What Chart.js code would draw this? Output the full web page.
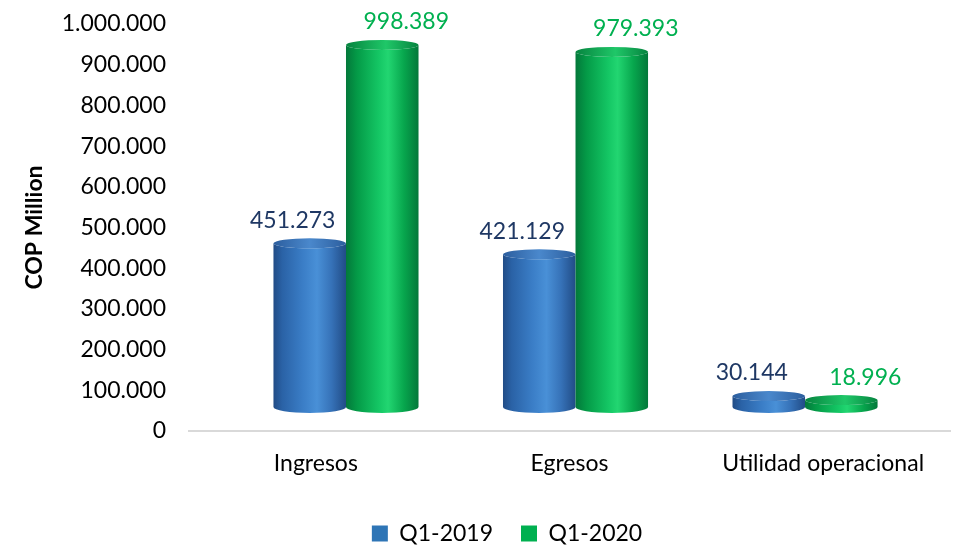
<!DOCTYPE html>
<html>
<head>
<meta charset="utf-8">
<script src="https://cdn.jsdelivr.net/npm/chart.js@4"></script>
<style>
html,body{margin:0;padding:0;background:#fff;}
#wrap{width:953px;height:546px;}
</style>
</head>
<body>
<div id="wrap"><canvas id="c" width="953" height="546"></canvas></div>
<script>
// ---- data ----
const categories = ['Ingresos', 'Egresos', 'Utilidad operacional'];
const seriesNames = ['Q1-2019', 'Q1-2020'];
const q12019 = [451273, 421129, 30144];
const q12020 = [998389, 979393, 18996];
const yMin = 0, yMax = 1000000, yStep = 100000;
const axisTitle = 'COP Million';

// ---- styles ----
const FONT = 'Lato, "Open Sans", sans-serif';
const fmt = v => String(Math.round(v)).replace(/\B(?=(\d{3})+(?!\d))/g, '.');
const toPoints = arr => arr.map((v, i) => ({x: i, y: v}));

const palettes = [
  {
    legend: '#2E75B6', label: '#1F3864', labelDx: -17,
    body: [[0,'#214C86'],[0.12,'#2A62A6'],[0.4,'#3A7DC6'],[0.6,'#4990D7'],[0.8,'#3672B8'],[1,'#214C86']],
    top:  [[0,'#2C5E9E'],[0.5,'#4A88CC'],[1,'#2C5E9E']]
  },
  {
    legend: '#00B050', label: '#00B050', labelDx: 24,
    body: [[0,'#03783A'],[0.15,'#049A47'],[0.45,'#14C664'],[0.58,'#22D671'],[0.8,'#07A64D'],[1,'#03783A']],
    top:  [[0,'#06843F'],[0.55,'#1FC768'],[1,'#06843F']]
  }
];

function drawCylinder(ctx, cx, w, yTop, yBase, pal) {
  const rx = w / 2, l = cx - rx, r = cx + rx;
  const ryB = 6, ryT = 5;
  const g = ctx.createLinearGradient(l, 0, r, 0);
  pal.body.forEach(([o, c]) => g.addColorStop(o, c));
  ctx.save();
  ctx.beginPath();
  ctx.moveTo(l, yTop);
  ctx.lineTo(l, yBase);
  ctx.ellipse(cx, yBase, rx, ryB, 0, Math.PI, 0, true);
  ctx.lineTo(r, yTop);
  ctx.ellipse(cx, yTop, rx, ryT, 0, 0, Math.PI, false);
  ctx.closePath();
  ctx.fillStyle = g;
  ctx.fill();
  const gt = ctx.createLinearGradient(l, 0, r, 0);
  pal.top.forEach(([o, c]) => gt.addColorStop(o, c));
  ctx.beginPath();
  ctx.ellipse(cx, yTop, rx, ryT, 0, 0, Math.PI * 2);
  ctx.fillStyle = gt;
  ctx.fill();
  ctx.restore();
}

const cylinderPlugin = {
  id: 'cylinders',
  beforeDatasetDraw() { return false; },
  afterDatasetsDraw(chart) {
    const ctx = chart.ctx;
    const n = chart.data.labels.length;
    for (let i = 0; i < n; i++) {
      chart.data.datasets.forEach((ds, di) => {
        const el = chart.getDatasetMeta(di).data[i];
        if (!el) return;
        drawCylinder(ctx, el.x, el.width, el.y, el.base, palettes[di]);
      });
    }
    ctx.save();
    ctx.font = '23px ' + FONT;
    ctx.textAlign = 'center';
    ctx.textBaseline = 'middle';
    chart.data.datasets.forEach((ds, di) => {
      chart.getDatasetMeta(di).data.forEach((el, i) => {
        const pal = palettes[di];
        ctx.fillStyle = pal.label;
        const y = Math.max(el.y - 23, 21);
        ctx.fillText(fmt(ds.data[i].y), el.x + pal.labelDx, y);
      });
    });
    ctx.restore();
  }
};

const legendShift = {
  id: 'legendShift',
  afterLayout(chart) {
    const lg = chart.legend;
    if (!lg) return;
    lg.left += 32; lg.right += 32;
    lg.top += 9; lg.bottom += 9;
  }
};

new Chart(document.getElementById('c'), {
  type: 'bar',
  data: {
    labels: categories,
    datasets: [
      { label: seriesNames[0], data: toPoints(q12019), backgroundColor: palettes[0].legend,
        xAxisID: 'x2', yAxisID: 'y2', categoryPercentage: 0.632, barPercentage: 1 },
      { label: seriesNames[1], data: toPoints(q12020), backgroundColor: palettes[1].legend,
        xAxisID: 'x2', yAxisID: 'y2', categoryPercentage: 0.632, barPercentage: 1 }
    ]
  },
  options: {
    responsive: false,
    animation: false,
    devicePixelRatio: 1,
    layout: { padding: { top: 24, left: 0, right: 3, bottom: 0 } },
    scales: {
      x: {
        type: 'category', position: 'bottom', offset: true,
        grid: { display: false, drawTicks: false },
        border: { display: true, color: '#D9D9D9', width: 2 },
        ticks: { font: { family: FONT, size: 23 }, color: '#000', padding: 19, maxRotation: 0, autoSkip: false },
        afterFit(s) { s.height = 54; }
      },
      y: {
        type: 'linear', position: 'left', min: yMin, max: yMax,
        grid: { display: true, drawOnChartArea: false, drawTicks: true, tickLength: 23,
                color: 'rgba(0,0,0,0)', tickColor: 'rgba(0,0,0,0)' },
        border: { display: false },
        ticks: { stepSize: yStep, callback: v => fmt(v), font: { family: FONT, size: 23 }, color: '#000', padding: 0 },
        title: { display: true, text: axisTitle, color: '#000',
                 font: { family: FONT, size: 23, weight: 'bold' }, padding: { top: 21, bottom: 0 } },
        afterFit(s) { s.width = 189; }
      },
      x2: {
        type: 'linear', display: false, offset: false, min: -0.684, max: 2.6316,
        afterBuildTicks(s) { s.ticks = categories.map((c, i) => ({ value: i })); }
      },
      y2: { type: 'linear', display: false, min: -66190, max: 1056270 }
    },
    plugins: {
      legend: {
        position: 'bottom',
        labels: { font: { family: FONT, size: 23 }, color: '#000', boxWidth: 16, boxHeight: 16, padding: 28 }
      },
      tooltip: { enabled: false }
    }
  },
  plugins: [cylinderPlugin, legendShift]
});
</script>
</body>
</html>
